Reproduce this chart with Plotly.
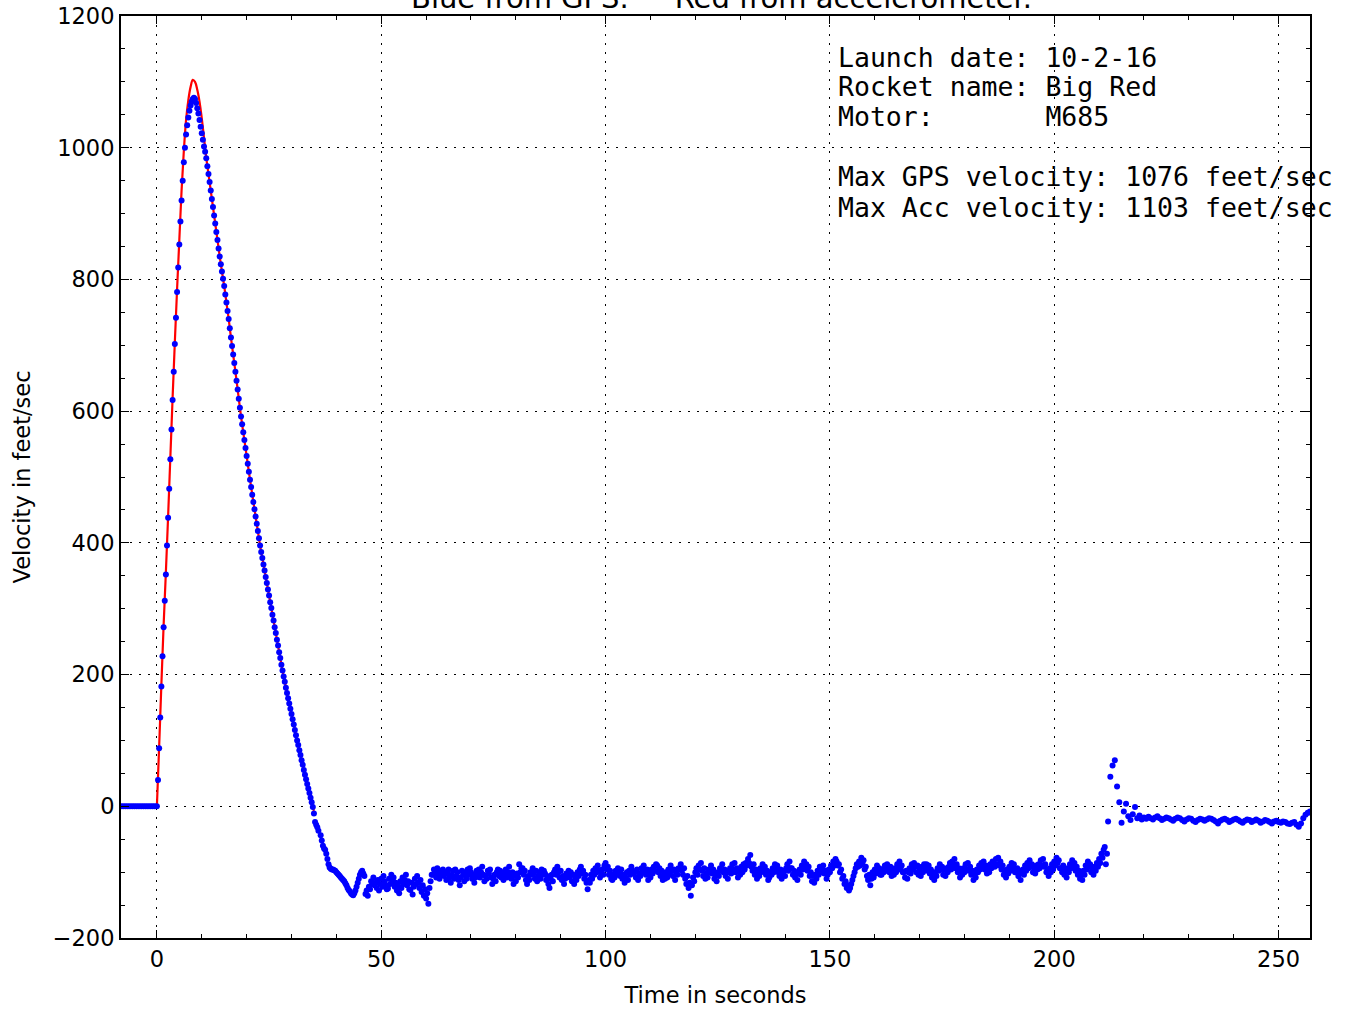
import numpy as np
import plotly.graph_objects as go

NB = "\u00a0"

# ---- GPS velocity (ft/s) ----
# on the pad, -8 s .. -0.5 s every 0.5 s
gps_pre_t0, gps_pre_dt = -8.0, 0.5
gps_pre = [0, 0, 0, 0, 0, 0, 0, 0, 0, 0, 0, 0, 0, 0, 0, 0]

# boost + coast, 0 s .. 36 s every 0.25 s
gps_boost_t0, gps_boost_dt = 0.0, 0.25
gps_boost = [
    0, 40, 88, 135, 182, 228, 272, 312,
    352, 396, 438, 482, 527, 572, 617, 660,
    702, 742, 781, 818, 853, 888, 920, 950,
    978, 1000, 1020, 1034, 1046, 1056, 1064, 1070,
    1074, 1076, 1074, 1068, 1060, 1052, 1042, 1032,
    1022, 1012, 1002, 994, 984, 972, 960, 948,
    935, 922, 910, 897, 885, 872, 860, 847,
    835, 823, 812, 801, 790, 777, 765, 752,
    740, 726, 712, 699, 686, 673, 660, 646,
    633, 619, 605, 592, 580, 568, 556, 544,
    532, 520, 508, 496, 485, 473, 462, 451,
    440, 429, 418, 407, 396, 386, 377, 367,
    358, 348, 339, 329, 320, 310, 301, 291,
    282, 272, 263, 253, 244, 234, 225, 215,
    206, 197, 189, 180, 172, 164, 156, 148,
    140, 132, 124, 116, 108, 100, 93, 85,
    78, 70, 63, 55, 48, 41, 34, 27,
    20, 13, 6, -1, -11, -24, -28, -32,
    -37,
]

# descent under chute, 36.5 s .. 211.75 s every 0.25 s (one row = 5 s)
gps_desc_t0, gps_desc_dt = 36.5, 0.25
gps_desc = [
    -44, -52, -60, -64, -66, -72, -80, -88, -93, -95, -96, -96, -97, -98, -100, -102, -104, -106, -108, -110,
    -112, -114, -117, -120, -124, -127, -129, -132, -134, -135, -132, -128, -122, -116, -110, -104, -100, -98, -102, -106,
    -133, -128, -136, -122, -126, -114, -118, -108, -120, -116, -124, -112, -128, -118, -110, -122, -106, -114, -120, -126,
    -125, -110, -118, -104, -112, -108, -122, -116, -128, -120, -132, -114, -124, -108, -118, -112, -104, -120, -114, -126,
    -127, -116, -134, -122, -110, -118, -106, -116, -124, -112, -130, -120, -136, -126, -140, -132, -148, -124, -114, -104,
    -104, -96, -100, -108, -94, -102, -110, -98, -104, -96, -106, -100, -112, -102, -96, -108, -116, -104, -98, -110,
    -96, -106, -100, -112, -120, -108, -98, -104, -114, -100, -110, -96, -104, -94, -100, -110, -104, -116, -108, -98,
    -104, -96, -108, -100, -92, -104, -114, -106, -110, -98, -102, -96, -108, -118, -110, -104, -114, -100, -96, -106,
    -98, -108, -102, -112, -104, -96, -108, -100, -92, -104, -110, -100, -118, -106, -114, -102, -108, -88, -100, -94,
    -94, -104, -98, -112, -118, -106, -112, -100, -104, -94, -102, -110, -98, -114, -106, -100, -110, -96, -104, -98,
    -102, -112, -106, -118, -124, -110, -104, -114, -100, -96, -104, -92, -100, -108, -98, -112, -106, -118, -110, -102,
    -106, -98, -108, -100, -114, -104, -118, -108, -112, -100, -106, -96, -92, -102, -98, -110, -104, -116, -126, -112,
    -116, -104, -110, -98, -104, -94, -100, -90, -98, -108, -102, -96, -104, -90, -86, -96, -92, -104, -98, -110,
    -112, -104, -108, -98, -104, -94, -100, -106, -96, -110, -104, -116, -108, -100, -112, -98, -104, -92, -98, -102,
    -100, -108, -96, -112, -102, -106, -94, -100, -90, -98, -104, -96, -112, -102, -108, -96, -102, -92, -98, -88,
    -90, -100, -94, -106, -98, -112, -104, -110, -100, -108, -96, -102, -90, -98, -106, -96, -112, -100, -104, -94,
    -96, -88, -98, -104, -94, -110, -118, -106, -124, -116, -136, -120, -108, -114, -100, -94, -104, -90, -96, -86,
    -98, -106, -94, -110, -102, -108, -96, -100, -90, -102, -96, -110, -104, -114, -100, -106, -94, -98, -88, -100,
    -96, -106, -98, -110, -100, -94, -102, -88, -96, -86, -100, -94, -108, -98, -104, -92, -100, -88, -96, -86,
    -90, -80, -86, -74, -92, -98, -88, -104, -96, -110, -100, -106, -94, -100, -88, -98, -92, -104, -98, -112,
    -108, -100, -104, -94, -100, -88, -96, -90, -100, -106, -96, -110, -102, -98, -106, -94, -88, -98, -84, -94,
    -94, -104, -98, -108, -100, -112, -102, -96, -104, -90, -96, -84, -92, -88, -98, -92, -106, -100, -114, -106,
    -116, -104, -110, -98, -104, -92, -100, -96, -90, -102, -98, -110, -104, -96, -100, -90, -94, -84, -90, -80,
    -84, -90, -88, -100, -96, -110, -106, -118, -114, -124, -120, -128, -124, -118, -112, -106, -100, -94, -88, -92,
    -84, -90, -78, -86, -82, -96, -92, -106, -112, -104, -120, -110, -100, -108, -96, -102, -90, -98, -94, -104,
    -104, -96, -100, -90, -98, -88, -94, -100, -92, -106, -98, -104, -94, -100, -88, -96, -84, -94, -90, -100,
    -100, -108, -98, -110, -100, -94, -102, -88, -96, -86, -92, -100, -90, -104, -96, -106, -92, -100, -88, -96,
    -88, -98, -90, -102, -96, -108, -100, -112, -100, -106, -94, -98, -88, -96, -92, -104, -96, -106, -94, -100,
    -92, -86, -96, -84, -90, -80, -94, -88, -100, -94, -108, -98, -104, -94, -100, -88, -96, -86, -98, -92,
    -104, -98, -112, -102, -108, -96, -100, -90, -96, -86, -92, -84, -96, -90, -102, -94, -100, -88, -94, -84,
    -86, -92, -80, -88, -78, -90, -84, -96, -90, -104, -98, -108, -96, -102, -92, -98, -86, -94, -88, -100,
    -100, -94, -106, -98, -112, -102, -96, -104, -90, -98, -86, -94, -82, -92, -88, -100, -94, -102, -90, -96,
    -88, -94, -82, -90, -80, -92, -88, -100, -96, -106, -94, -100, -88, -96, -84, -90, -78, -86, -82, -94,
    -94, -100, -90, -104, -98, -108, -94, -100, -88, -94, -82, -90, -86, -98, -92, -104, -98, -110, -104, -112,
    -98, -104, -90, -96, -84, -92, -88, -100, -94, -104, -92, -98, -86, -92, -80, -86, -72, -78, -66, -62,
    -88, -72,
]

# spike and slow tail, 212 s .. 257 s every 0.5 s
gps_tail_t0, gps_tail_dt = 212.0, 0.5
gps_tail = [
    -23, 45, 62, 70, 30, 6, -25, -8, 4, -15,
    -21, -12, -1, -18, -14, -20, -17,
    -19, -16, -18, -20, -17, -15, -18, -21, -19, -17,
    -18, -20, -22, -19, -17, -18, -21, -23, -20, -18,
    -19, -22, -24, -21, -19, -20, -22, -20, -18, -19,
    -21, -23, -26, -22, -20, -19, -21, -24, -22, -20,
    -19, -21, -23, -25, -22, -20, -21, -24, -22, -20,
    -22, -25, -23, -21, -22, -24, -26, -23, -22, -24,
    -25, -23, -24, -26, -27, -25, -24, -28, -31, -26,
    -18, -13, -10, -8,
]

# ---- accelerometer-integrated velocity (ft/s), 0 s .. 35 s every 0.5 s ----
acc_t0, acc_dt = 0.0, 0.5
acc_vel = [
    0, 90, 185, 275, 355, 440, 530, 620, 705, 785,
    860, 935, 995, 1042, 1072, 1092, 1103, 1100, 1088, 1070,
    1045, 1015, 985, 960, 935, 910, 885, 860, 835, 812,
    790, 765, 740, 712, 686, 660, 633, 605, 580, 556,
    532, 508, 485, 462, 440, 418, 396, 377, 358, 339,
    320, 301, 282, 263, 244, 225, 206, 189, 172, 156,
    140, 124, 108, 93, 78, 63, 48, 34, 20, 6,
    -7,
]

info_lines = [
    "Launch date: 10-2-16",
    "Rocket name: Big Red",
    "Motor:       M685",
    "Max GPS velocity: 1076 feet/sec",
    "Max Acc velocity: 1103 feet/sec",
]
info_y = [0.9555, 0.923, 0.8905, 0.8254, 0.7928]

title_text = "Blue from GPS." + NB * 5 + "Red from accelerometer."


def times(t0, dt, vals):
    return t0 + dt * np.arange(len(vals))


gps_t = np.concatenate([
    times(gps_pre_t0, gps_pre_dt, gps_pre),
    times(gps_boost_t0, gps_boost_dt, gps_boost),
    times(gps_desc_t0, gps_desc_dt, gps_desc),
    times(gps_tail_t0, gps_tail_dt, gps_tail),
])
gps_v = gps_pre + gps_boost + gps_desc + gps_tail
acc_t = times(acc_t0, acc_dt, acc_vel)

fig = go.Figure()
fig.add_trace(go.Scatter(x=acc_t, y=acc_vel, mode="lines",
                         line=dict(color="#ff0000", width=2.2, shape="spline")))
fig.add_trace(go.Scatter(x=gps_t, y=gps_v, mode="markers",
                         marker=dict(color="#0000ff", size=6, line=dict(width=0))))

axis_common = dict(
    ticks="inside", ticklen=8, tickwidth=1.3, tickcolor="black",
    showline=True, linewidth=2, linecolor="black", mirror="ticks",
    showgrid=True, gridcolor="black", gridwidth=1, griddash="2px,7px",
    zeroline=False, automargin=False, ticklabeloverflow="allow",
    tickfont=dict(family="DejaVu Sans", size=22.5, color="black"),
)

fig.update_xaxes(**axis_common, range=[-8, 257], tick0=0, dtick=50,
                 minor=dict(ticks="inside", ticklen=4, tickwidth=1.3, tickcolor="black",
                            dtick=10, tick0=0, showgrid=False),
                 title=dict(text="Time in seconds", standoff=16,
                            font=dict(family="DejaVu Sans", size=22.5)))
fig.update_yaxes(**axis_common, range=[-200, 1200], tick0=0, dtick=200,
                 minor=dict(ticks="inside", ticklen=4, tickwidth=1.3, tickcolor="black",
                            dtick=50, tick0=0, showgrid=False),
                 title=dict(text="Velocity in feet/sec", standoff=16,
                            font=dict(family="DejaVu Sans", size=22.5)))

for line, y in zip(info_lines, info_y):
    fig.add_annotation(text=line.replace(" ", NB), xref="paper", yref="paper",
                       x=0.601, y=y, xanchor="left", yanchor="middle",
                       showarrow=False,
                       font=dict(family="DejaVu Sans Mono", size=26.5, color="black"))

# title sits above the frame and is partly cut off by the top edge
fig.add_annotation(text=title_text, xref="paper", yref="paper",
                   x=0.505, y=1.019, xanchor="center", yanchor="middle",
                   showarrow=False,
                   font=dict(family="DejaVu Sans", size=29, color="black"))

fig.update_layout(
    width=1348, height=1009,
    margin=dict(l=121, r=38, t=16, b=71),
    paper_bgcolor="white", plot_bgcolor="white",
    showlegend=False,
    font=dict(family="DejaVu Sans", size=22.5, color="black"),
)

# drop the page's default body margin so the figure starts at the window corner
fig.write_html("out.html", config={"displayModeBar": False},
               post_script="document.body.style.margin = '0';")
